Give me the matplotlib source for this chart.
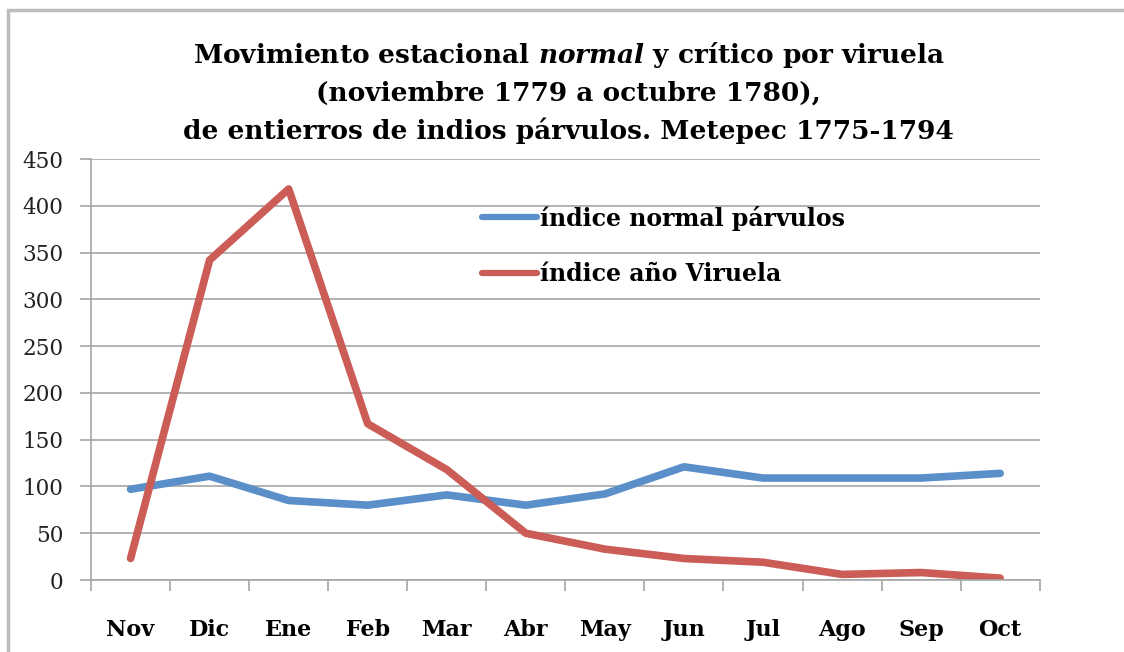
import matplotlib
matplotlib.use("Agg")
import matplotlib.pyplot as plt
from matplotlib.patches import Rectangle

months = ["Nov", "Dic", "Ene", "Feb", "Mar", "Abr", "May", "Jun", "Jul", "Ago", "Sep", "Oct"]
normal_parvulos = [97, 111, 85, 80, 91, 80, 92, 121, 109, 109, 109, 114]
anio_viruela = [23, 342, 418, 167, 118, 50, 33, 23, 19, 6, 8, 2]
yticks = [0, 50, 100, 150, 200, 250, 300, 350, 400, 450]

plt.rcParams["mathtext.fontset"] = "custom"
plt.rcParams["mathtext.rm"] = "DejaVu Serif:bold"
plt.rcParams["mathtext.it"] = "DejaVu Serif:italic:bold"

fig = plt.figure(figsize=(11.24, 6.52), dpi=100)
ax = fig.add_axes([0.081, 0.1104, 0.844, 0.6457])

# outer frame like the spreadsheet chart area
fig.patches.append(Rectangle((8 / 1124, -0.1), 1.2, (652 - 10) / 652 + 0.1,
                             transform=fig.transFigure, fill=False,
                             edgecolor="#BDBDBD", linewidth=2.5))

x = list(range(len(months)))
ax.plot(x, normal_parvulos, color="#5A8FCA", linewidth=5.5, solid_capstyle="round",
        label="índice normal párvulos")
ax.plot(x, anio_viruela, color="#CC5C56", linewidth=5.5, solid_capstyle="round",
        label="índice año Viruela")

ax.set_xlim(-0.5, len(months) - 0.5)
ax.set_ylim(0, 450)
ax.set_yticks(yticks)
ax.set_yticklabels([str(v) for v in yticks], fontfamily="DejaVu Serif", fontsize=15.5, color="#222222")
ax.set_xticks(x)
ax.set_xticklabels(months, fontfamily="DejaVu Serif", fontweight="bold", fontsize=16)
ax.set_xticks([i - 0.5 for i in range(len(months) + 1)], minor=True)
ax.tick_params(axis="x", which="major", length=0, pad=28)
ax.tick_params(axis="x", which="minor", length=8, color="#A6A6A6", width=1.2)
ax.tick_params(axis="y", length=8, color="#A6A6A6", width=1.2, pad=12)

ax.grid(axis="y", color="#A6A6A6", linewidth=1.2)
ax.set_axisbelow(True)
for s in ["top", "right"]:
    ax.spines[s].set_visible(False)
for s in ["left", "bottom"]:
    ax.spines[s].set_color("#A6A6A6")
    ax.spines[s].set_linewidth(1.2)

leg = ax.legend(loc="upper left", bbox_to_anchor=(0.39, 0.94), frameon=False,
                prop={"family": "DejaVu Serif", "weight": "bold", "size": 17},
                handlelength=2.3, handletextpad=0.15, labelspacing=1.35)
for h in leg.get_lines():
    h.set_linewidth(4.5)

fig.text(0.506, 0.915, r"Movimiento estacional $normal$ y crítico por viruela",
         ha="center", va="center", fontsize=19, fontfamily="DejaVu Serif", fontweight="bold")
fig.text(0.506, 0.857, "(noviembre 1779 a octubre 1780),",
         ha="center", va="center", fontsize=19, fontfamily="DejaVu Serif", fontweight="bold")
fig.text(0.506, 0.799, "de entierros de indios párvulos. Metepec 1775-1794",
         ha="center", va="center", fontsize=19, fontfamily="DejaVu Serif", fontweight="bold")

fig.savefig("out.png", dpi=100)
